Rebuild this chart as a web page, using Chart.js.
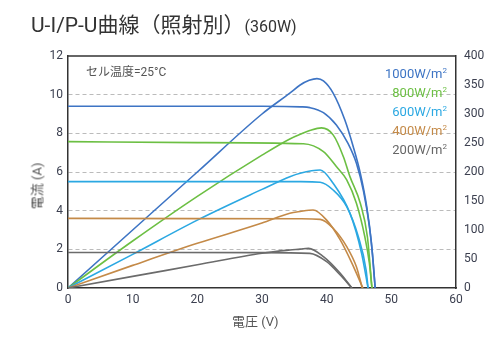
<!DOCTYPE html>
<html>
<head>
<meta charset="utf-8">
<script src="https://cdn.jsdelivr.net/npm/chart.js@4/dist/chart.umd.min.js"></script>
<style>
  body { margin: 0; background: #fff; }
  #wrap { position: relative; width: 503px; height: 351px; font-family: Roboto, "Noto Sans CJK JP", sans-serif; }
  #wrap div { position: absolute; white-space: nowrap; }
  .title { left: 31px; top: 8px; font-size: 21px; color: #333; }
  .title span { font-size: 16px; }
  .note { left: 86px; top: 62px; font-size: 12px; color: #555; }
  .legend { right: 56px; top: 64px; text-align: right; font-size: 13px; line-height: 19px; }
  .legend sup { font-size: 8px; vertical-align: 5px; line-height: 0; }
  .xtitle { left: 232px; top: 311px; font-size: 13px; color: #555; }
  .ytitle { left: 36px; top: 186px; font-size: 13px; color: #555; transform: translate(-50%, -50%) rotate(-90deg); }
</style>
</head>
<body>
<div id="wrap">
  <canvas id="chart" width="503" height="351"></canvas>
  <div class="title">U-I/P-U曲線（照射別）<span>(360W)</span></div>
  <div class="note">セル温度=25°C</div>
  <div class="legend">
    <div style="position:static;color:#3d74c4">1000W/m<sup>2</sup></div>
    <div style="position:static;color:#6cbf43">800W/m<sup>2</sup></div>
    <div style="position:static;color:#2ba8e2">600W/m<sup>2</sup></div>
    <div style="position:static;color:#c48a48">400W/m<sup>2</sup></div>
    <div style="position:static;color:#666">200W/m<sup>2</sup></div>
  </div>
  <div class="xtitle">電圧 (V)</div>
  <div class="ytitle">電流 (A)</div>
</div>
<script>
// 軸目盛
const xTicks = [0, 10, 20, 30, 40, 50, 60];
const currentTicks = [0, 2, 4, 6, 8, 10, 12];
const powerTicks = [0, 50, 100, 150, 200, 250, 300, 350, 400];

// 1000W/m2
const iv1000V = [0, 30, 36, 37.4, 39.5, 41.5, 43.3, 44.6, 45.7, 46.6, 47.1, 47.5];
const iv1000I = [9.4, 9.4, 9.37, 9.33, 9.07, 8.43, 7.48, 6.45, 5.0, 3.2, 1.7, 0];
const pv1000V = [0, 10, 20, 30, 34.3, 35.9, 37.3, 38.5, 39.5, 41, 42.8, 44.1, 45.2, 46.2, 46.9, 47.5];
const pv1000P = [0, 100, 200, 300, 336, 350, 358, 361, 357, 336, 290, 244, 198, 140, 80, 0];

// 800W/m2
const iv800V = [0, 20, 36.4, 39.5, 41.5, 43.1, 44.6, 45.9, 46.6, 47.0];
const iv800I = [7.57, 7.52, 7.46, 7.05, 6.28, 5.59, 4.38, 2.65, 1.3, 0];
const pv800V = [0, 10, 20, 30, 34.3, 35.9, 37.5, 39.2, 41, 42.6, 43.6, 45.2, 46.3, 47.0];
const pv800P = [0, 81, 158, 229, 257, 265, 272, 276, 264, 226, 192, 146, 88, 0];

// 600W/m2
const iv600V = [0, 36, 39, 41, 43.1, 44.9, 46.1, 46.4];
const iv600I = [5.5, 5.5, 5.47, 5.07, 4.21, 2.65, 0.93, 0];
const pv600V = [0, 10, 20, 30, 34.3, 35.9, 39, 41, 43.6, 45.4, 46.4];
const pv600P = [0, 58, 117, 170, 192, 198, 203.4, 180.5, 128.8, 59.8, 0];

// 400W/m2
const iv400V = [0, 36, 39, 41, 43.1, 44.6, 45.5];
const iv400I = [3.6, 3.58, 3.55, 3.09, 2.14, 1.1, 0];
const pv400V = [0, 10, 20, 30, 34.3, 35.9, 37.9, 40, 42.1, 43.9, 45.6];
const pv400P = [0, 39, 77, 112, 129, 132, 134.5, 117, 83, 43, 0];

// 200W/m2
const iv200V = [0, 30, 37.4, 40, 42.1, 43.9];
const iv200I = [1.84, 1.83, 1.79, 1.36, 0.67, 0];
const pv200V = [0, 10, 20, 30, 34.3, 35.9, 37.2, 39.5, 42.1, 43.9];
const pv200P = [0, 20, 40, 60, 65.5, 67, 68.4, 54, 25.3, 0];

const pts = (xs, ys) => xs.map((x, i) => ({ x: x, y: ys[i] }));

function curve(xs, ys, color, axis) {
    return {
        data: pts(xs, ys),
        yAxisID: axis,
        borderColor: color,
        borderWidth: 1.6,
        pointRadius: 0,
        fill: false,
        cubicInterpolationMode: 'monotone'
    };
}

// 上側の枠線
const frameTop = {
    id: 'frameTop',
    afterDraw(chart) {
        const { ctx, chartArea } = chart;
        ctx.save();
        ctx.strokeStyle = '#333';
        ctx.lineWidth = 1.5;
        ctx.beginPath();
        ctx.moveTo(chartArea.left, chartArea.top);
        ctx.lineTo(chartArea.right, chartArea.top);
        ctx.stroke();
        ctx.restore();
    }
};

const tickFont = { family: 'Roboto, sans-serif', size: 12 };

new Chart(document.getElementById('chart'), {
    type: 'line',
    data: {
        datasets: [
            curve(iv200V, iv200I, '#6b6b6b', 'y'),
            curve(pv200V, pv200P, '#6b6b6b', 'y2'),
            curve(iv400V, iv400I, '#c48a48', 'y'),
            curve(pv400V, pv400P, '#c48a48', 'y2'),
            curve(iv600V, iv600I, '#2ba8e2', 'y'),
            curve(pv600V, pv600P, '#2ba8e2', 'y2'),
            curve(iv800V, iv800I, '#6cbf43', 'y'),
            curve(pv800V, pv800P, '#6cbf43', 'y2'),
            curve(iv1000V, iv1000I, '#3d74c4', 'y'),
            curve(pv1000V, pv1000P, '#3d74c4', 'y2')
        ]
    },
    options: {
        responsive: false,
        animation: false,
        layout: { autoPadding: false, padding: { left: 28, right: 0, top: 56, bottom: 0 } },
        plugins: { legend: { display: false }, tooltip: { enabled: false } },
        scales: {
            x: {
                type: 'linear',
                min: 0, max: 60,
                afterBuildTicks: s => { s.ticks = xTicks.map(v => ({ value: v })); },
                afterFit: s => { s.height = 63; },
                grid: { display: false, drawTicks: false },
                border: { color: '#333', width: 1.5 },
                ticks: { color: '#3c4050', font: tickFont, padding: 5, maxRotation: 0 }
            },
            y: {
                position: 'left',
                min: 0, max: 12,
                afterBuildTicks: s => { s.ticks = currentTicks.map(v => ({ value: v })); },
                afterFit: s => { s.width = 40; },
                grid: {
                    drawTicks: false,
                    color: c => (c.tick.value === 0 || c.tick.value === 12) ? 'rgba(0,0,0,0)' : '#bbb'
                },
                border: { color: '#333', width: 1.5, dash: [4, 3] },
                ticks: { color: '#3c4050', font: tickFont, padding: 5 }
            },
            y2: {
                position: 'right',
                min: 0, max: 400,
                afterBuildTicks: s => { s.ticks = powerTicks.map(v => ({ value: v })); },
                afterFit: s => { s.width = 47; },
                grid: { display: false, drawTicks: false },
                border: { color: '#333', width: 1.5 },
                ticks: { color: '#3c4050', font: tickFont, padding: 8 }
            }
        }
    },
    plugins: [frameTop]
});
</script>
</body>
</html>
